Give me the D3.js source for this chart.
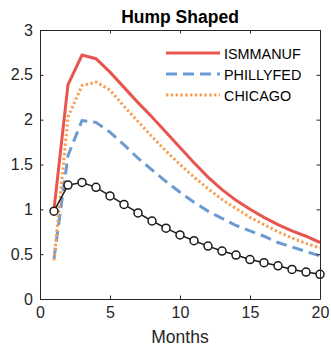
<!DOCTYPE html>
<html>
<head>
<meta charset="utf-8">
<script src="https://cdn.jsdelivr.net/npm/d3@7"></script>
<style>
  body { margin: 0; background: #fff; }
  svg { display: block; font-family: "Liberation Sans", Arial, sans-serif; }
</style>
</head>
<body>
<svg width="331" height="348"></svg>
<script>
var months = [1, 2, 3, 4, 5, 6, 7, 8, 9, 10, 11, 12, 13, 14, 15, 16, 17, 18, 19, 20];
var ismmanuf = [1.00, 2.39, 2.72, 2.68, 2.53, 2.36, 2.19, 2.03, 1.86, 1.69, 1.52, 1.36, 1.22, 1.10, 1.00, 0.91, 0.83, 0.76, 0.70, 0.63];
var phillyfed = [0.45, 1.60, 1.99, 1.97, 1.86, 1.72, 1.57, 1.44, 1.31, 1.19, 1.08, 0.98, 0.90, 0.82, 0.76, 0.70, 0.63, 0.58, 0.53, 0.48];
var chicago = [0.43, 2.03, 2.38, 2.42, 2.33, 2.15, 1.98, 1.81, 1.65, 1.50, 1.36, 1.23, 1.11, 1.01, 0.91, 0.83, 0.75, 0.68, 0.62, 0.57];
var hump = [0.98, 1.27, 1.30, 1.245, 1.15, 1.055, 0.96, 0.87, 0.79, 0.715, 0.65, 0.59, 0.535, 0.49, 0.44, 0.405, 0.37, 0.33, 0.30, 0.275];
var xTicks = [0, 5, 10, 15, 20];
var yTicks = [0, 0.5, 1, 1.5, 2, 2.5, 3];

var series = [
    { name: 'ISMMANUF', values: ismmanuf, color: '#E8554E', dash: null },
    { name: 'PHILLYFED', values: phillyfed, color: '#6B9BD2', dash: '11,6' },
    { name: 'CHICAGO', values: chicago, color: '#FA9F52', dash: '2.4,2.4' }
];

// note: "top" is a reserved window global, so use a box object
var box = { left: 40, right: 320, top: 30, bottom: 299 };
var ink = '#262626';

var svg = d3.select('svg');
var x = d3.scaleLinear().domain([0, 20]).range([box.left, box.right]);
var y = d3.scaleLinear().domain([0, 3]).range([box.bottom, box.top]);

var line = d3.line()
    .x(function(d, i) { return x(months[i]); })
    .y(function(d) { return y(d); });

// clip so thick lines don't spill past the box
svg.append('clipPath').attr('id', 'plot')
    .append('rect')
    .attr('x', box.left).attr('y', box.top)
    .attr('width', box.right - box.left).attr('height', box.bottom - box.top);

var plot = svg.append('g').attr('clip-path', 'url(#plot)');

plot.selectAll('path.series')
    .data(series)
    .enter().append('path')
    .attr('class', 'series')
    .attr('d', d => line(d.values))
    .attr('fill', 'none')
    .attr('stroke', d => d.color)
    .attr('stroke-width', 3)
    .attr('stroke-dasharray', d => d.dash);

// black benchmark line with open circles, drawn on top
plot.append('path')
    .attr('d', line(hump))
    .attr('fill', 'none')
    .attr('stroke', '#1a1a1a')
    .attr('stroke-width', 1.5);

svg.selectAll('circle')
    .data(hump)
    .enter().append('circle')
    .attr('cx', (d, i) => x(months[i]))
    .attr('cy', d => y(d))
    .attr('r', 4)
    .attr('fill', '#fff')
    .attr('stroke', '#1a1a1a')
    .attr('stroke-width', 1.5);

// axes: bottom/left with labels, top/right ticks only (box on, ticks inward)
var tickLen = 3.5;
var fmt = d3.format('~g');
svg.append('g')
    .attr('transform', 'translate(0,' + box.bottom + ')')
    .call(d3.axisBottom(x).tickValues(xTicks).tickFormat(fmt).tickSizeInner(-tickLen).tickSizeOuter(0).tickPadding(8));
svg.append('g')
    .attr('transform', 'translate(0,' + box.top + ')')
    .call(d3.axisTop(x).tickValues(xTicks).tickSizeInner(-tickLen).tickSizeOuter(0).tickFormat(''));
svg.append('g')
    .attr('transform', 'translate(' + box.left + ',0)')
    .call(d3.axisLeft(y).tickValues(yTicks).tickFormat(fmt).tickSizeInner(-tickLen).tickSizeOuter(0).tickPadding(7));
svg.append('g')
    .attr('transform', 'translate(' + box.right + ',0)')
    .call(d3.axisRight(y).tickValues(yTicks).tickSizeInner(-tickLen).tickSizeOuter(0).tickFormat(''));

svg.selectAll('.domain').attr('stroke', ink).attr('stroke-width', 1);
svg.selectAll('.tick line').attr('stroke', ink);
svg.selectAll('.tick text')
    .attr('fill', ink)
    .style('font-size', '16px')
    .style('font-family', '"Liberation Sans", Arial, sans-serif');

// title and x label
svg.append('text')
    .attr('x', (box.left + box.right) / 2).attr('y', 23)
    .attr('text-anchor', 'middle')
    .style('font-size', '17.5px').style('font-weight', 'bold')
    .attr('fill', '#000')
    .text('Hump Shaped');

svg.append('text')
    .attr('x', (box.left + box.right) / 2).attr('y', 343)
    .attr('text-anchor', 'middle')
    .style('font-size', '17.5px')
    .attr('fill', ink)
    .text('Months');

// legend, no box
var legend = svg.append('g');
var rows = legend.selectAll('g')
    .data(series)
    .enter().append('g')
    .attr('transform', (d, i) => 'translate(166,' + (53 + i * 21) + ')');

rows.append('line')
    .attr('x1', 0).attr('x2', 54)
    .attr('y1', 0).attr('y2', 0)
    .attr('stroke', d => d.color)
    .attr('stroke-width', 3)
    .attr('stroke-dasharray', d => d.dash);

rows.append('text')
    .attr('x', 58).attr('y', 5.5)
    .style('font-size', '14.4px')
    .attr('fill', '#000')
    .text(d => d.name);
</script>
</body>
</html>
